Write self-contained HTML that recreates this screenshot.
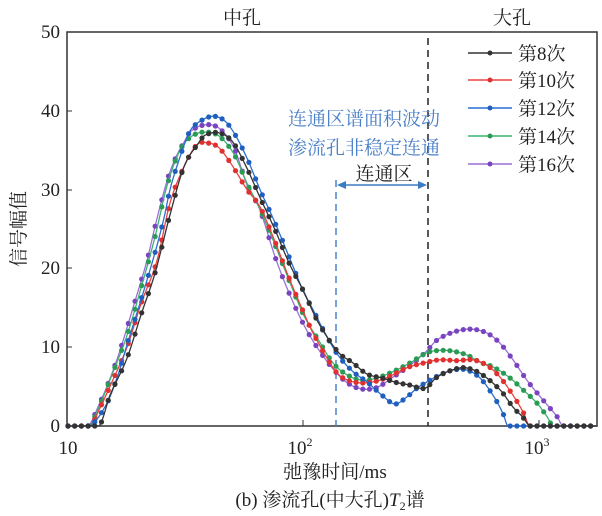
<!DOCTYPE html>
<html><head><meta charset="utf-8"><style>
html,body{margin:0;padding:0;background:#fff;}
svg{display:block;}
text{font-family:"Liberation Serif","Noto Serif CJK SC",serif;}
</style></head><body>
<svg id="s" width="602" height="516" xmlns="http://www.w3.org/2000/svg">
<rect x="67" y="32" width="530" height="394" fill="none" stroke="#333" stroke-width="1.5"/>
<g font-size="19" fill="#222" text-anchor="end">
<text x="60" y="432">0</text><text x="60" y="353">10</text><text x="60" y="274">20</text>
<text x="60" y="196">30</text><text x="60" y="117">40</text><text x="60" y="38">50</text>
</g>
<g stroke="#333" stroke-width="1">
<line x1="67" y1="347" x2="72" y2="347"/><line x1="67" y1="268" x2="72" y2="268"/>
<line x1="67" y1="190" x2="72" y2="190"/><line x1="67" y1="111" x2="72" y2="111"/>
<line x1="303" y1="426" x2="303" y2="420"/><line x1="539" y1="426" x2="539" y2="420"/>
</g>
<g font-size="19" fill="#222" text-anchor="middle">
<text x="68" y="454">10</text>
<text x="300" y="454">10<tspan font-size="12" dy="-8">2</tspan></text>
<text x="537" y="454">10<tspan font-size="12" dy="-8">3</tspan></text>
<text x="335" y="478">弛豫时间/ms</text>
<text x="330" y="506">(b) 渗流孔(中大孔)<tspan font-style="italic">T</tspan><tspan font-size="12" dy="4">2</tspan><tspan dy="-4">谱</tspan></text>
<text x="242" y="24">中孔</text><text x="512" y="24">大孔</text>
</g>
<text transform="translate(25,229) rotate(-90)" font-size="19" fill="#222" text-anchor="middle">信号幅值</text>
<line x1="428" y1="38" x2="428" y2="426" stroke="#222" stroke-width="1.5" stroke-dasharray="7,5"/>
<line x1="336" y1="180" x2="336" y2="426" stroke="#4a84c8" stroke-width="1.5" stroke-dasharray="7,5"/>
<g fill="#4a7fc8" font-size="19" text-anchor="middle">
<text x="364" y="125">连通区谱面积波动</text>
<text x="364" y="154">渗流孔非稳定连通</text>
</g>
<text x="384" y="180" font-size="19" fill="#222" text-anchor="middle">连通区</text>
<line x1="340" y1="185" x2="424" y2="185" stroke="#3a7cc4" stroke-width="1.5"/>
<polygon points="337,185 346,181 346,189" fill="#3a7cc4"/>
<polygon points="427,185 418,181 418,189" fill="#3a7cc4"/>
<g id="curves"></g>
<g id="leg" font-size="19" fill="#222"></g>
</svg>
<script>
var series=[
["#7a44c0",[[67,0],[88,0],[99,2.7],[110,6],[120,9.6],[133,15],[147,21],[155,25.3],[162,28.8],[169,31.9],[177,34.4],[184,36],[190,37.3],[204,38.2],[219,37.8],[234,35.3],[247,30.6],[260,27.4],[275,21.5],[289,16.9],[304,12.8],[317,10],[332,7.4],[347,5.5],[362,4.7],[377,4.9],[393,6.2],[410,7.7],[425,9.3],[437,10.9],[453,11.9],[470,12.3],[487,11.8],[500,10.5],[513,8.4],[527,5.8],[543,3.3],[557,1.2],[563,0],[597,0]],"#9b6fd6"],
["#2a9a55",[[67,0],[89,0],[100,2.7],[112,6.5],[127,11.5],[141,17.5],[155,24],[167,30.5],[180,35],[192,36.8],[205,37.3],[219,36.8],[234,34.5],[247,30.8],[260,27.5],[275,23],[289,18.5],[304,14],[318,11],[333,8],[347,6.5],[362,5.8],[377,6.1],[393,6.9],[410,8],[427,9.3],[440,9.6],[453,9.5],[467,9],[480,8.1],[493,7.5],[510,6.1],[523,4.6],[537,2.9],[547,1.2],[553,0],[597,0]],"#3cb371"],
["#e03030",[[67,0],[90,0],[100,2.3],[112,5.6],[127,10],[141,15.5],[157,21],[170,28.3],[184,32.9],[197,35.7],[209,35.9],[219,35.3],[232,33.1],[247,30],[260,27.8],[275,23.4],[289,18.8],[304,14.3],[313,11.8],[333,7.4],[343,6.1],[358,5.5],[373,5.6],[388,6.2],[407,7.4],[427,8.1],[440,8.4],[457,8.3],[473,8.4],[487,7.7],[500,6.2],[513,3.9],[523,1.8],[530,0],[597,0]],"#ef4040"],
["#1f5fbf",[[67,0],[90,0],[107,2.9],[118,6.5],[127,10.3],[141,16],[155,22],[164,26.4],[170,30],[177,33],[189,37.2],[197,38.4],[212,39.3],[224,38.8],[234,37.2],[247,34],[260,30],[275,25.8],[289,21.5],[304,16.9],[312,15],[325,11.8],[338,9],[353,6.9],[367,5.6],[382,3.9],[395,2.8],[407,3.7],[417,4.8],[427,5.6],[440,6.5],[453,7.1],[467,7.1],[480,6.1],[493,3.9],[503,1.6],[508,0],[597,0]],"#2a6fd0"],
["#333",[[67,0],[99,0],[110,3.9],[127,8.6],[141,14.1],[155,19.4],[170,26.8],[184,32.9],[199,36],[205,36.9],[219,37.2],[233,36],[247,32.7],[260,29],[275,24.9],[289,20.7],[304,17],[318,13.2],[338,9.4],[353,8],[367,6.6],[382,6.1],[397,5.5],[410,5.2],[425,4.8],[437,6.2],[452,7.1],[465,7.4],[480,6.7],[500,4.6],[513,2.4],[523,1.1],[530,0],[597,0]],"#333"]
];
function val(p,x){for(var i=0;i<p.length-1;i++){if(x<=p[i+1][0]){var p0=p[Math.max(0,i-1)],p1=p[i],p2=p[i+1],p3=p[Math.min(p.length-1,i+2)];var t=(x-p1[0])/(p2[0]-p1[0]);var m1=(p2[1]-p0[1])/(p2[0]-p0[0])*(p2[0]-p1[0]),m2=(p3[1]-p1[1])/(p3[0]-p1[0])*(p2[0]-p1[0]);var t2=t*t,t3=t2*t;return Math.max(0,(2*t3-3*t2+1)*p1[1]+(t3-2*t2+t)*m1+(-2*t3+3*t2)*p2[1]+(t3-t2)*m2);}}return 0;}
var g=document.getElementById("curves"),h="";
series.forEach(function(s){var d="";for(var x=67;x<=597;x+=1){var y=426-val(s[1],x)*7.88;d+=(d?"L":"M")+x+","+y.toFixed(1);}h+='<path d="'+d+'" fill="none" stroke="'+s[2]+'" stroke-width="1.3"/>';for(var x=68;x<=597;x+=6.7){var y=426-val(s[1],x)*7.88;h+='<circle cx="'+x.toFixed(1)+'" cy="'+y.toFixed(1)+'" r="2.6" fill="'+s[0]+'"/>';}});
g.innerHTML=h;
var leg=[["第8次","#333","#333",53],["第10次","#ef4040","#e03030",80],["第12次","#2a6fd0","#1f5fbf",108],["第14次","#3cb371","#2a9a55",136],["第16次","#9b6fd6","#7a44c0",164]],lh="";
leg.forEach(function(l){lh+='<line x1="468" y1="'+l[3]+'" x2="512" y2="'+l[3]+'" stroke="'+l[1]+'" stroke-width="1.5"/><circle cx="490" cy="'+l[3]+'" r="2.5" fill="'+l[2]+'"/><text x="518" y="'+(l[3]+7)+'">'+l[0]+'</text>';});
document.getElementById("leg").innerHTML=lh;
</script>
</body></html>
